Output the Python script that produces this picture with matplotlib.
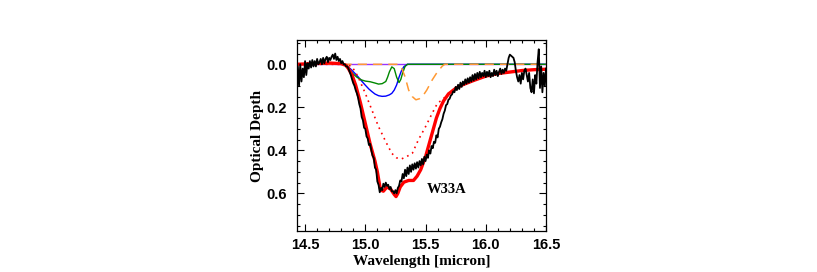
"""
W33A 15 micron band: observed optical depth with the fitted components.
"""

import numpy as np
import matplotlib
matplotlib.use("Agg")
import matplotlib.pyplot as plt
from matplotlib.ticker import MultipleLocator

# observed spectrum, sampled every 0.01 micron from 14.43 to 16.50
obs_wave = np.linspace(14.43, 16.50, 208)
obs_tau = [
    0.07, 0.01, 0.10, 0.00, 0.08, 0.02, 0.06, -0.015, 0.05, -0.005,
    0.02, -0.015, 0.015, -0.02, 0.01, -0.015, 0.01, -0.025, 0.00, -0.01,
    -0.025, 0.00, -0.03, -0.005, -0.025, -0.035, -0.01, -0.03, -0.02, -0.035,
    -0.045, -0.025, -0.05, -0.02, -0.035, -0.015, -0.025, -0.005, -0.015, 0.00,
    0.00, 0.01, 0.01, 0.02, 0.035, 0.05, 0.07, 0.088, 0.10, 0.12,
    0.135, 0.155, 0.185, 0.205, 0.245, 0.26, 0.295, 0.30, 0.335, 0.345,
    0.375, 0.37, 0.40, 0.425, 0.435, 0.48, 0.49, 0.545, 0.56, 0.595,
    0.575, 0.585, 0.555, 0.57, 0.55, 0.565, 0.56, 0.58, 0.57, 0.59,
    0.59, 0.60, 0.585, 0.60, 0.575, 0.565, 0.54, 0.545, 0.51, 0.53,
    0.49, 0.52, 0.48, 0.51, 0.47, 0.50, 0.465, 0.49, 0.46, 0.485,
    0.455, 0.48, 0.45, 0.47, 0.44, 0.465, 0.43, 0.45, 0.42, 0.435,
    0.40, 0.415, 0.38, 0.39, 0.36, 0.365, 0.33, 0.34, 0.30, 0.29,
    0.27, 0.255, 0.23, 0.215, 0.19, 0.185, 0.165, 0.16, 0.145, 0.14,
    0.125, 0.13, 0.105, 0.12, 0.095, 0.115, 0.085, 0.105, 0.08, 0.095,
    0.07, 0.09, 0.065, 0.085, 0.06, 0.08, 0.05, 0.075, 0.045, 0.07,
    0.04, 0.065, 0.035, 0.06, 0.04, 0.055, 0.03, 0.06, 0.035, 0.055,
    0.03, 0.06, 0.04, 0.055, 0.025, 0.05, 0.03, 0.055, 0.035, 0.02,
    0.045, 0.025, 0.04, 0.02, 0.03, 0.00, -0.03, -0.045, -0.04, -0.035,
    -0.03, -0.01, 0.03, 0.06, 0.08, 0.05, 0.09, 0.04, 0.07, 0.03,
    0.02, 0.05, 0.08, 0.04, 0.11, 0.13, 0.07, 0.135, 0.05, 0.09,
    -0.01, -0.07, 0.11, 0.01, 0.13, 0.04, 0.10, 0.02,
]

# total fit (thick red)
fit_wave = [14.43, 14.55, 14.70, 14.80, 14.84, 14.86, 14.89, 14.92, 14.96, 15.00,
            15.04, 15.08, 15.10, 15.12, 15.13, 15.15, 15.18, 15.21, 15.24, 15.255,
            15.27, 15.29, 15.32, 15.36, 15.40, 15.43, 15.46, 15.50, 15.53, 15.56,
            15.59, 15.62, 15.65, 15.69, 15.75, 15.80, 15.90, 16.00, 16.10, 16.20,
            16.30, 16.40, 16.50]
fit_tau = [0.0, -0.003, -0.006, -0.003, 0.005, 0.02, 0.05, 0.097, 0.18, 0.275,
           0.37, 0.45, 0.50, 0.565, 0.585, 0.59, 0.57, 0.58, 0.605, 0.615,
           0.60, 0.57, 0.548, 0.54, 0.54, 0.52, 0.49, 0.43, 0.37, 0.31,
           0.25, 0.205, 0.17, 0.138, 0.112, 0.097, 0.075, 0.055, 0.043, 0.036,
           0.029, 0.025, 0.023]

# main component (red dotted)
main_wave = [14.43, 14.84, 14.89, 14.94, 15.00, 15.055, 15.11, 15.17, 15.22, 15.26,
             15.30, 15.34, 15.39, 15.44, 15.50, 15.555, 15.60, 15.64, 15.69, 15.75,
             15.80, 15.90, 16.00, 16.10, 16.20, 16.30, 16.40, 16.50]
main_tau = [0.0, 0.0, 0.011, 0.058, 0.135, 0.213, 0.29, 0.36, 0.414, 0.435,
            0.44, 0.43, 0.414, 0.352, 0.29, 0.228, 0.18, 0.165, 0.135, 0.11,
            0.097, 0.075, 0.055, 0.043, 0.036, 0.029, 0.025, 0.023]

# blue component
blue_wave = [14.43, 14.83, 14.875, 14.91, 14.94, 14.97, 15.00, 15.03, 15.055, 15.08,
             15.11, 15.14, 15.17, 15.20, 15.22, 15.24, 15.26, 15.28, 15.30, 15.32,
             15.35, 16.50]
blue_tau = [0.0, 0.0, 0.02, 0.04, 0.058, 0.078, 0.097, 0.115, 0.127, 0.138,
            0.146, 0.149, 0.148, 0.142, 0.135, 0.12, 0.096, 0.06, 0.03, 0.011,
            0.0, 0.0]

# green component
green_wave = [14.43, 14.83, 14.85, 14.875, 14.90, 14.93, 14.97, 15.00, 15.04, 15.08,
              15.11, 15.14, 15.17, 15.185, 15.20, 15.22, 15.24, 15.26, 15.28, 15.295,
              15.31, 15.33, 15.35, 16.50]
green_tau = [0.0, 0.0, 0.01, 0.03, 0.045, 0.06, 0.073, 0.078, 0.081, 0.087,
             0.092, 0.09, 0.08, 0.06, 0.035, 0.012, 0.02, 0.06, 0.085, 0.07,
             0.04, 0.01, 0.0, 0.0]

# orange dashed component
orange_wave = [14.43, 15.28, 15.30, 15.33, 15.36, 15.39, 15.42, 15.45, 15.48, 15.51,
               15.555, 15.60, 15.64, 15.66, 16.50]
orange_tau = [0.0, 0.0, 0.015, 0.058, 0.12, 0.15, 0.165, 0.16, 0.145, 0.12,
              0.073, 0.034, 0.008, 0.0, 0.0]

# flat purple component
purple_wave = [14.43, 16.50]
purple_tau = [0.0, 0.0]

fig = plt.figure(figsize=(8.17, 2.72), dpi=100)
ax = fig.add_axes([297 / 817, 1 - 231 / 272, 249 / 817, 191 / 272])

ax.plot(purple_wave, purple_tau, color="#9933ff", lw=1.0)
ax.plot(blue_wave, blue_tau, color="#0000ff", lw=1.0)
ax.plot(green_wave, green_tau, color="#008800", lw=1.0)
ax.plot(orange_wave, orange_tau, color="#ff9933", lw=1.1, dashes=(6, 4))
ax.plot(main_wave, main_tau, color="#ff0000", lw=1.2, ls=(0, (1, 2.5)))
ax.plot(fit_wave, fit_tau, color="#ff0000", lw=2.4)
ax.plot(obs_wave, obs_tau, color="black", lw=1.3)

ax.text(15.51, 0.58, "W33A", fontsize=10.5, fontweight="bold",
        family="Liberation Serif", ha="left", va="center")

ax.set_xlim(14.433, 16.5)
ax.set_ylim(0.775, -0.113)
ax.xaxis.set_minor_locator(MultipleLocator(0.1))
ax.yaxis.set_minor_locator(MultipleLocator(0.05))
ax.set_xticks([14.5, 15.0, 15.5, 16.0, 16.5])
ax.set_xticklabels(["14.5", "15.0", "15.5", "16.0", "16.5"])
ax.set_yticks([0.0, 0.2, 0.4, 0.6])
ax.set_yticklabels(["0.0", "0.2", "0.4", "0.6"])

ax.tick_params(which="both", direction="in", top=True, right=True)
ax.tick_params(which="major", length=5, width=0.8, labelsize=10.5)
ax.tick_params(axis="x", which="major", pad=5)
ax.tick_params(axis="y", which="major", pad=7)
ax.tick_params(which="minor", length=2.5, width=0.8)
for lab in ax.get_xticklabels() + ax.get_yticklabels():
    lab.set_family("Liberation Sans")
    lab.set_fontweight("bold")

for sp in ax.spines.values():
    sp.set_linewidth(0.9)

ax.set_xlabel("Wavelength [micron]", fontsize=11, fontweight="bold",
              family="Liberation Serif", labelpad=2)
ax.set_ylabel("Optical Depth", fontsize=11, fontweight="bold",
              family="Liberation Serif", labelpad=2)

fig.savefig("out.png", dpi=100)
